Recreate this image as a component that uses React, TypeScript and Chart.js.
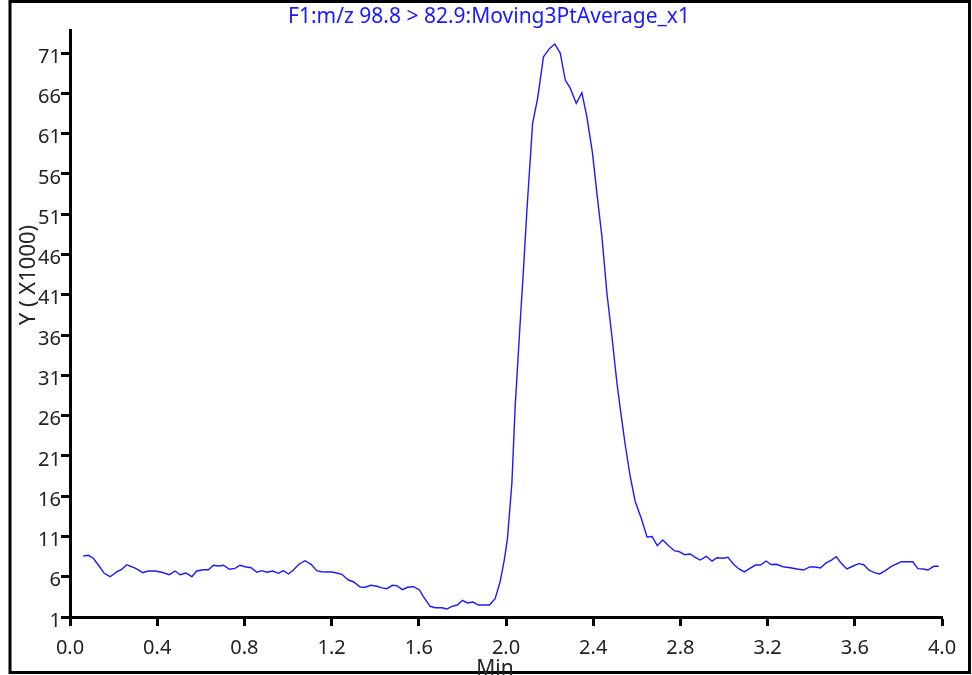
import React, { useEffect, useRef } from "react";
import { Chart, registerables } from "chart.js";

Chart.register(...registerables);

const TITLE = "F1:m/z 98.8 > 82.9:Moving3PtAverage_x1";
const Y_TITLE = "Y ( X1000)";
const X_TITLE = "Min";

const xTickValues = [0, 0.4, 0.8, 1.2, 1.6, 2.0, 2.4, 2.8, 3.2, 3.6, 4.0];
const yTickValues = [1, 6, 11, 16, 21, 26, 31, 36, 41, 46, 51, 56, 61, 66, 71];

const timeMin = [
  0.061, 0.084, 0.107, 0.130, 0.157, 0.184, 0.214, 0.237, 0.260, 0.283,
  0.306, 0.334, 0.359, 0.390, 0.421, 0.456, 0.482, 0.505, 0.532, 0.559,
  0.581, 0.612, 0.635, 0.658, 0.681, 0.704, 0.731, 0.757, 0.780, 0.803,
  0.831, 0.857, 0.880, 0.903, 0.930, 0.956, 0.979, 1.002, 1.025, 1.051,
  1.078, 1.106, 1.132, 1.155, 1.178, 1.201, 1.224, 1.247, 1.277, 1.300,
  1.331, 1.354, 1.380, 1.408, 1.430, 1.453, 1.479, 1.499, 1.525, 1.548,
  1.576, 1.603, 1.621, 1.652, 1.675, 1.706, 1.729, 1.752, 1.777, 1.800,
  1.823, 1.848, 1.874, 1.897, 1.924, 1.950, 1.973, 1.992, 2.006, 2.027,
  2.042, 2.062, 2.080, 2.096, 2.122, 2.145, 2.172, 2.200, 2.224, 2.249,
  2.272, 2.295, 2.322, 2.348, 2.371, 2.397, 2.417, 2.440, 2.463, 2.486,
  2.509, 2.527, 2.547, 2.570, 2.593, 2.620, 2.647, 2.670, 2.694, 2.719,
  2.746, 2.772, 2.795, 2.819, 2.845, 2.868, 2.891, 2.919, 2.945, 2.968,
  2.995, 3.018, 3.044, 3.067, 3.093, 3.117, 3.144, 3.167, 3.193, 3.216,
  3.241, 3.271, 3.304, 3.335, 3.365, 3.393, 3.419, 3.442, 3.470, 3.491,
  3.515, 3.542, 3.564, 3.592, 3.618, 3.641, 3.664, 3.690, 3.714, 3.740,
  3.766, 3.791, 3.814, 3.840, 3.866, 3.889, 3.913, 3.936, 3.962, 3.985,
];

const intensityK = [
  8.57, 8.66, 8.29, 7.45, 6.42, 6.00, 6.59, 6.92, 7.49, 7.24,
  6.96, 6.50, 6.71, 6.71, 6.55, 6.25, 6.71, 6.25, 6.46, 6.00,
  6.71, 6.87, 6.87, 7.42, 7.33, 7.42, 6.92, 7.04, 7.42, 7.24,
  7.12, 6.55, 6.75, 6.55, 6.71, 6.42, 6.75, 6.34, 6.83, 7.58,
  7.99, 7.54, 6.75, 6.62, 6.59, 6.59, 6.46, 6.30, 5.59, 5.38,
  4.72, 4.69, 4.93, 4.81, 4.62, 4.51, 4.93, 4.88, 4.39, 4.69,
  4.76, 4.35, 3.52, 2.33, 2.15, 2.15, 1.99, 2.33, 2.49, 3.07,
  2.74, 2.86, 2.49, 2.49, 2.49, 3.27, 5.38, 8.07, 10.56, 17.59,
  27.10, 36.21, 44.07, 51.51, 62.28, 65.38, 70.54, 71.58, 72.12, 70.96,
  67.65, 66.62, 64.76, 66.07, 63.09, 58.55, 53.59, 48.20, 41.18, 35.79,
  30.01, 26.28, 22.35, 18.41, 15.31, 13.29, 10.93, 10.99, 9.85, 10.56,
  9.85, 9.23, 9.10, 8.73, 8.82, 8.41, 8.07, 8.53, 7.95, 8.36,
  8.29, 8.41, 7.54, 7.00, 6.59, 7.00, 7.45, 7.45, 7.95, 7.52,
  7.54, 7.24, 7.12, 6.96, 6.83, 7.21, 7.21, 7.08, 7.74, 8.04,
  8.48, 7.54, 6.96, 7.33, 7.62, 7.49, 6.83, 6.50, 6.34, 6.75,
  7.24, 7.58, 7.86, 7.86, 7.86, 7.00, 6.96, 6.83, 7.29, 7.29,
];

const FONT = "'Noto Sans', 'Open Sans', 'DejaVu Sans', sans-serif";

const decorPlugin = {
  id: "decor",
  afterDraw(chart: any) {
    const ctx = chart.ctx as CanvasRenderingContext2D;
    ctx.save();
    // outer frame
    ctx.strokeStyle = "#000";
    ctx.lineWidth = 3;
    ctx.strokeRect(10, 1.5, 959.5, 671);
    // title
    ctx.fillStyle = "#1a1aff";
    ctx.font = `21px ${FONT}`;
    ctx.textAlign = "center";
    ctx.textBaseline = "middle";
    ctx.fillText(TITLE, 489, 17);
    // y title
    ctx.fillStyle = "#222";
    ctx.font = `22px ${FONT}`;
    ctx.save();
    ctx.translate(29, 275);
    ctx.rotate(-Math.PI / 2);
    ctx.fillText(Y_TITLE, 0, 0);
    ctx.restore();
    // x title
    ctx.font = `21px ${FONT}`;
    ctx.fillText(X_TITLE, 495, 669);
    ctx.restore();
  },
};

export default function App() {
  const canvasRef = useRef<HTMLCanvasElement | null>(null);

  useEffect(() => {
    const canvas = canvasRef.current;
    if (!canvas) return;
    const points = timeMin.map((t, i) => ({ x: t, y: intensityK[i] }));
    const chart = new Chart(canvas, {
      type: "scatter",
      data: {
        datasets: [
          {
            data: points,
            showLine: true,
            borderColor: "#1a1aff",
            borderWidth: 1.4,
            pointRadius: 0,
            fill: false,
            tension: 0,
          },
        ],
      },
      options: {
        responsive: false,
        animation: false,
        devicePixelRatio: 1,
        layout: { padding: { top: 30, right: 30, left: 0, bottom: 0 } },
        plugins: {
          legend: { display: false },
          tooltip: { enabled: false },
          title: { display: false },
        },
        scales: {
          x: {
            type: "linear",
            min: 0,
            max: 4,
            afterBuildTicks: (scale: any) => {
              scale.ticks = xTickValues.map((v) => ({ value: v }));
            },
            afterFit: (scale: any) => {
              scale.height = 58;
            },
            ticks: {
              autoSkip: false,
              maxRotation: 0,
              padding: 10,
              color: "#222",
              font: { family: FONT, size: 20 },
              callback: (v: any) => Number(v).toFixed(1),
            },
            grid: {
              drawOnChartArea: false,
              drawTicks: true,
              tickLength: 9,
              tickWidth: 3,
              tickColor: "#000",
            },
            border: { display: true, color: "#000", width: 3 },
          },
          y: {
            type: "linear",
            min: 1,
            max: 73.86,
            afterBuildTicks: (scale: any) => {
              scale.ticks = yTickValues.map((v) => ({ value: v }));
            },
            afterFit: (scale: any) => {
              scale.width = 70;
            },
            ticks: {
              autoSkip: false,
              padding: 0,
              labelOffset: 4,
              color: "#222",
              font: { family: FONT, size: 20 },
              callback: (v: any) => String(v),
            },
            grid: {
              drawOnChartArea: false,
              drawTicks: true,
              tickLength: 9,
              tickWidth: 3,
              tickColor: "#000",
            },
            border: { display: true, color: "#000", width: 3 },
          },
        },
      },
      plugins: [decorPlugin],
    });
    return () => chart.destroy();
  }, []);

  return (
    <div style={{ position: "absolute", left: 0, top: 0, width: 972, height: 675, background: "#fff" }}>
      <canvas ref={canvasRef} width={972} height={675} style={{ display: "block" }} />
    </div>
  );
}
